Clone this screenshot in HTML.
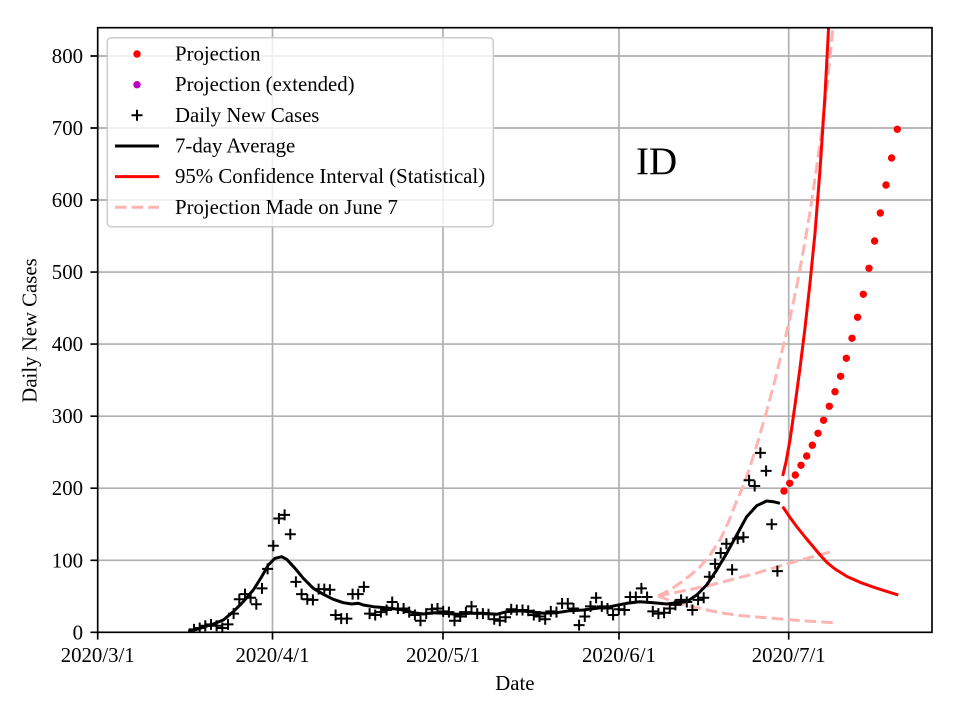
<!DOCTYPE html>
<html><head><meta charset="utf-8"><style>
html,body{margin:0;padding:0;background:#fff;}
svg{display:block;}
text{font-family:"Liberation Serif","DejaVu Serif",serif;fill:#000;}
</style></head><body>
<svg width="960" height="720" viewBox="0 0 960 720" xmlns="http://www.w3.org/2000/svg">
<defs><clipPath id="pa"><rect x="97.7" y="27.7" width="834.3" height="604.6"/></clipPath></defs>
<rect width="960" height="720" fill="#fff"/>
<g stroke="#b0b0b0" stroke-width="1.67" fill="none">
<path d="M272.5 27.7V632.3M443 27.7V632.3M619 27.7V632.3M788.7 27.7V632.3"/>
<path d="M97.7 560.3H932M97.7 488.2H932M97.7 416.2H932M97.7 344.1H932M97.7 272.1H932M97.7 200H932M97.7 128H932M97.7 56H932"/>
</g>
<g clip-path="url(#pa)">
<g stroke="#ffb4b4" stroke-width="3" fill="none" stroke-dasharray="11.6 5" stroke-linejoin="round">
<polyline points="658,596 670,590 680,583 690,575.5 700,567 710,555 720,540 728,523 737,500 744,484 750,467 758,441 767,410 775,380 783,347 790,318 797,285 804,247 810,212 816,172 821,136 826,95 830,58 833,27 834,10"/>
<polyline points="658,596 680,591.5 707,586 730,580 757,573 775,567.5 790,563 810,557.5 830,552"/>
<polyline points="658,596 670,600.5 680,603.5 693,607 707,610 722,613 740,615.5 757,617 773,618.3 790,619.8 810,621.3 833,622.7"/>
</g>
<path fill="none" stroke="#000" stroke-width="2" d="M188.5 629.4h11M194 623.9v11M194.2 628h11M199.7 622.5v11M199.8 625.8h11M205.3 620.3v11M205.5 624.4h11M211 618.9v11M211.1 625.8h11M216.6 620.3v11M216.8 628h11M222.3 622.5v11M222.5 624.4h11M228 618.9v11M228.1 613.6h11M233.6 608.1v11M233.8 599.2h11M239.3 593.7v11M239.5 594.1h11M245 588.6v11M245.1 597.7h11M250.6 592.2v11M250.8 604.2h11M256.3 598.7v11M256.5 588.4h11M262 582.9v11M262.1 568.9h11M267.6 563.4v11M267.8 545.8h11M273.3 540.3v11M273.4 518.5h11M278.9 513v11M279.1 514.9h11M284.6 509.4v11M284.8 534.3h11M290.3 528.8v11M290.4 581.9h11M295.9 576.4v11M296.1 594.1h11M301.6 588.6v11M301.8 599.2h11M307.3 593.7v11M307.4 599.9h11M312.9 594.4v11M313.1 589.1h11M318.6 583.6v11M318.8 589.1h11M324.3 583.6v11M324.4 589.8h11M329.9 584.3v11M330.1 615h11M335.6 609.5v11M335.7 618.6h11M341.2 613.1v11M341.4 618.6h11M346.9 613.1v11M347.1 594.1h11M352.6 588.6v11M352.7 594.1h11M358.2 588.6v11M358.4 586.9h11M363.9 581.4v11M364.1 613.6h11M369.6 608.1v11M369.7 615h11M375.2 609.5v11M375.4 612.1h11M380.9 606.6v11M381.1 610h11M386.6 604.5v11M386.7 602h11M392.2 596.5v11M392.4 608.5h11M397.9 603v11M398.1 608.5h11M403.6 603v11M403.7 612.1h11M409.2 606.6v11M409.4 615h11M414.9 609.5v11M415 620.8h11M420.5 615.3v11M420.7 613.6h11M426.2 608.1v11M426.4 609.2h11M431.9 603.7v11M432 608.5h11M437.5 603v11M437.7 611.4h11M443.2 605.9v11M443.4 612.1h11M448.9 606.6v11M449 620.8h11M454.5 615.3v11M454.7 616.5h11M460.2 611v11M460.4 612.1h11M465.9 606.6v11M466 606.4h11M471.5 600.9v11M471.7 613.6h11M477.2 608.1v11M477.4 613.6h11M482.9 608.1v11M483 614.3h11M488.5 608.8v11M488.7 619.3h11M494.2 613.8v11M494.3 620.8h11M499.8 615.3v11M500 617.2h11M505.5 611.7v11M505.7 609.2h11M511.2 603.7v11M511.3 610h11M516.8 604.5v11M517 610h11M522.5 604.5v11M522.7 610.7h11M528.2 605.2v11M528.3 615h11M533.8 609.5v11M534 616.5h11M539.5 611v11M539.7 619.3h11M545.2 613.8v11M545.3 611.4h11M550.8 605.9v11M551 612.1h11M556.5 606.6v11M556.6 603.5h11M562.1 598v11M562.3 603.5h11M567.8 598v11M568 608.5h11M573.5 603v11M573.6 625.1h11M579.1 619.6v11M579.3 616.5h11M584.8 611v11M585 606.4h11M590.5 600.9v11M590.6 597.7h11M596.1 592.2v11M596.3 606.4h11M601.8 600.9v11M602 608.5h11M607.5 603v11M607.6 615h11M613.1 609.5v11M613.3 609.2h11M618.8 603.7v11M619 610h11M624.5 604.5v11M624.6 597h11M630.1 591.5v11M630.3 597h11M635.8 591.5v11M635.9 588.4h11M641.4 582.9v11M641.6 597h11M647.1 591.5v11M647.3 611.4h11M652.8 605.9v11M652.9 613.6h11M658.4 608.1v11M658.6 612.8h11M664.1 607.3v11M664.3 608.5h11M669.8 603v11M669.9 604.9h11M675.4 599.4v11M675.6 599.9h11M681.1 594.4v11M681.3 602h11M686.8 596.5v11M686.9 610h11M692.4 604.5v11M692.6 599.9h11M698.1 594.4v11M698.2 597.7h11M703.7 592.2v11M703.9 576.8h11M709.4 571.3v11M709.6 563.9h11M715.1 558.4v11M715.2 553h11M720.7 547.5v11M720.9 543.7h11M726.4 538.2v11M726.6 569.6h11M732.1 564.1v11M732.2 538.6h11M737.7 533.1v11M737.9 537.2h11M743.4 531.7v11M743.6 480.3h11M749.1 474.8v11M749.2 486h11M754.7 480.5v11M754.9 452.9h11M760.4 447.4v11M760.6 470.9h11M766.1 465.4v11M766.2 524.2h11M771.7 518.7v11M771.9 571.1h11M777.4 565.6v11"/>
<polyline fill="none" stroke="#000" stroke-width="3" stroke-linejoin="round" points="188.3,631.7 200,628.3 213.3,624 223.3,620 233.3,611.7 243.3,601.7 253.3,590 261.7,576.7 268.3,565 275,558.3 281.7,556.7 286.7,559.3 295,568.3 303.3,578.3 313.3,588.3 323.3,594.3 333.3,599.3 343.3,602.7 351.7,604 358.3,603.3 363.3,605 373.3,606.7 380,607.3 390,608.3 403.3,610 413.3,612.7 423.3,614 433.3,612.7 443.3,613.3 456.7,614.3 470,613.3 483.3,613.3 496.7,614.3 506.7,611.7 520,610.7 530,611.7 543.3,613.3 556.7,612.7 570,610.7 583.3,610 596.7,608.3 610,606.7 626.7,603.3 640,601.7 653.3,602.7 666.7,604 680,602.3 686.7,601.7 696.7,595 706.7,585 716.7,570 726.7,553.3 736.7,535 746.7,516.7 756.7,505.7 766.7,501 773.3,501.7 780,503.3"/>
<polyline fill="none" stroke="#ff0000" stroke-width="3" stroke-linejoin="round" points="782.7,476 786,462 790,440 795,405 800,368 805,328 810,283 815,233 820,170 825,95 829,20 830,5"/>
<polyline fill="none" stroke="#ff0000" stroke-width="3" stroke-linejoin="round" points="782.7,506.7 790,517.5 797,527 805,537 813,546.5 820,555 827,562.5 835,569 847,576.5 860,582.3 873,587 886,591.2 898.3,595"/>
<g fill="#ff0000">
<circle cx="784" cy="491" r="3.7"/><circle cx="789.7" cy="483.3" r="3.7"/><circle cx="795.3" cy="475" r="3.7"/><circle cx="801" cy="465.3" r="3.7"/><circle cx="806.7" cy="456" r="3.7"/><circle cx="812.3" cy="445.2" r="3.7"/><circle cx="818" cy="433.3" r="3.7"/><circle cx="823.6" cy="420.3" r="3.7"/><circle cx="829.3" cy="406.3" r="3.7"/><circle cx="835" cy="391.7" r="3.7"/><circle cx="840.6" cy="376.3" r="3.7"/><circle cx="846.3" cy="358.3" r="3.7"/><circle cx="852" cy="338.3" r="3.7"/><circle cx="857.6" cy="317.3" r="3.7"/><circle cx="863.3" cy="294.3" r="3.7"/><circle cx="869" cy="268.3" r="3.7"/><circle cx="874.6" cy="241" r="3.7"/><circle cx="880.3" cy="213" r="3.7"/><circle cx="886" cy="185" r="3.7"/><circle cx="891.6" cy="158" r="3.7"/><circle cx="897.3" cy="129.3" r="3.7"/>
</g>
</g>
<rect x="97.7" y="27.7" width="834.3" height="604.6" fill="none" stroke="#000" stroke-width="1.67"/>
<g stroke="#000" stroke-width="1.67">
<path d="M90.4 632.3H97.7M90.4 560.3H97.7M90.4 488.2H97.7M90.4 416.2H97.7M90.4 344.1H97.7M90.4 272.1H97.7M90.4 200H97.7M90.4 128H97.7M90.4 56H97.7"/>
<path d="M97.7 632.3V639.6M272.5 632.3V639.6M443 632.3V639.6M619 632.3V639.6M788.7 632.3V639.6"/>
</g>
<g font-size="20.8" text-anchor="end">
<text x="83" y="639.3">0</text>
<text x="83" y="567.3">100</text>
<text x="83" y="495.2">200</text>
<text x="83" y="423.2">300</text>
<text x="83" y="351.1">400</text>
<text x="83" y="279.1">500</text>
<text x="83" y="207">600</text>
<text x="83" y="135">700</text>
<text x="83" y="63">800</text>
</g>
<g font-size="20.8" text-anchor="middle">
<text x="97.7" y="662">2020/3/1</text>
<text x="272.5" y="662">2020/4/1</text>
<text x="443" y="662">2020/5/1</text>
<text x="619" y="662">2020/6/1</text>
<text x="788.7" y="662">2020/7/1</text>
<text x="514.9" y="690">Date</text>
<text transform="translate(36.5,330.5) rotate(-90)">Daily New Cases</text>
</g>
<text x="636" y="174" font-size="39">ID</text>
<rect x="107.3" y="37.7" width="386" height="189" rx="4" ry="4" fill="#fff" fill-opacity="0.8" stroke="#cccccc" stroke-width="1.5"/>
<circle cx="137" cy="54" r="3.7" fill="#ff0000"/>
<circle cx="137" cy="84.7" r="3.7" fill="#bf00bf"/>
<path d="M131.5 115.3h11M137 109.8v11" stroke="#000" stroke-width="2"/>
<path d="M115 146H159" stroke="#000" stroke-width="3"/>
<path d="M115 176.6H159" stroke="#ff0000" stroke-width="3"/>
<path d="M115 207.3H159" stroke="#ffb4b4" stroke-width="3" stroke-dasharray="11.6 5"/>
<g font-size="20.8">
<text x="175" y="60.5">Projection</text>
<text x="175" y="91.2">Projection (extended)</text>
<text x="175" y="121.8">Daily New Cases</text>
<text x="175" y="152.5">7-day Average</text>
<text x="175" y="183.1">95% Confidence Interval (Statistical)</text>
<text x="175" y="213.8">Projection Made on June 7</text>
</g>
</svg>
</body></html>
